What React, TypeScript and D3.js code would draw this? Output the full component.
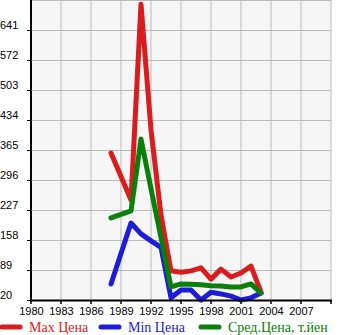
import React from "react";
import * as d3 from "d3";

const years = [1988, 1990, 1991, 1992, 1993, 1994, 1995, 1996, 1997, 1998, 1999, 2000, 2001, 2002, 2003];
const maxPrice = [358, 250, 700, 411, 215, 87, 84, 87, 94, 68, 91, 73, 82, 98, 38];
const minPrice = [57, 197, 172, 156, 141, 25, 43, 43, 20, 38, 34, 29, 20, 25, 36];
const avgPrice = [209, 225, 390, 276, 164, 50, 57, 56, 55, 53, 52, 50, 50, 57, 36];
const yTicks = [20, 89, 158, 227, 296, 365, 434, 503, 572, 641];
const xTicks = [1980, 1983, 1986, 1989, 1992, 1995, 1998, 2001, 2004, 2007];
const seriesNames = ["Max Цена", "Min Цена", "Сред.Цена, т.йен"];
const seriesColors = ["#d91c1c", "#1c1cd9", "#0a800a"];

export default function App() {
  const W = 345, H = 335;
  const x = d3.scaleLinear().domain([1980, 2010]).range([31, 331]);
  const y = d3.scaleLinear().domain([20, 710]).range([300, 0]);
  const line = d3
    .line<[number, number]>()
    .x((d) => x(d[0]))
    .y((d) => y(d[1]));
  const series = [maxPrice, minPrice, avgPrice];
  const gridX = [...xTicks, 2010];
  const gridY = [...yTicks.slice(1), 710];
  const legendX = [0, 99, 199];
  return (
    <svg width={W} height={H} style={{ position: "absolute", left: 0, top: 0 }}>
      <rect x={31} y={0} width={300} height={300} fill="#f6f6f6" />
      {gridX.slice(1).map((t) => (
        <line key={"gx" + t} x1={x(t)} x2={x(t)} y1={0} y2={300} stroke="#bbbbbb" strokeWidth={1} />
      ))}
      {gridY.map((t) => (
        <line key={"gy" + t} x1={31} x2={331} y1={y(t) + 0.5} y2={y(t) + 0.5} stroke="#bbbbbb" strokeWidth={1} />
      ))}
      {series.map((vals, i) => (
        <path
          key={"s" + i}
          d={line(years.map((yr, j) => [yr, vals[j]] as [number, number])) || ""}
          fill="none"
          stroke={seriesColors[i]}
          strokeWidth={5}
          strokeLinejoin="round"
          strokeLinecap="round"
        />
      ))}
      <line x1={31} x2={31} y1={0} y2={301} stroke="#000" strokeWidth={2} />
      <line x1={30} x2={332} y1={300.5} y2={300.5} stroke="#000" strokeWidth={2} />
      {yTicks.map((t) => (
        <g key={"yt" + t}>
          <line x1={27} x2={31} y1={y(t) + 0.5} y2={y(t) + 0.5} stroke="#000" strokeWidth={1} />
          <text x={0} y={y(t) - 1} fontFamily="Liberation Sans, Arial, sans-serif" fontSize={11} fill="#000">
            {t}
          </text>
        </g>
      ))}
      {gridX.map((t) => (
        <line key={"xtk" + t} x1={x(t)} x2={x(t)} y1={300} y2={304} stroke="#000" strokeWidth={1.5} />
      ))}
      {xTicks.map((t) => (
        <text
          key={"xt" + t}
          x={x(t) + 0.5}
          y={315}
          textAnchor="middle"
          fontFamily="Liberation Sans, Arial, sans-serif"
          fontSize={11}
          fill="#000"
        >
          {t}
        </text>
      ))}
      {seriesNames.map((n, i) => (
        <g key={"lg" + i}>
          <line
            x1={legendX[i] + 2}
            x2={legendX[i] + 20}
            y1={327}
            y2={327}
            stroke={seriesColors[i]}
            strokeWidth={5}
            strokeLinecap="round"
          />
          <text x={legendX[i] + 29} y={332} fontFamily="Liberation Serif, Times New Roman, serif" fontSize={14} fill={seriesColors[i]}>
            {n}
          </text>
        </g>
      ))}
    </svg>
  );
}
